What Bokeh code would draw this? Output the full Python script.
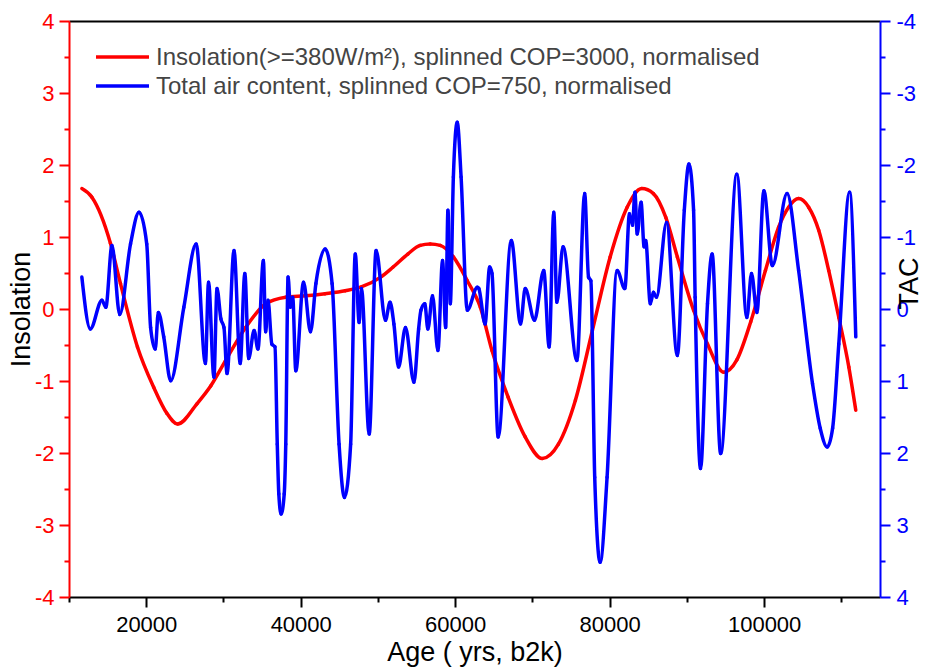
import math
from bokeh.plotting import figure
from bokeh.models import (Range1d, LinearAxis, FixedTicker, PrintfTickFormatter,
                          Legend, LegendItem, ColumnDataSource)
from bokeh.embed import file_html
from bokeh.resources import INLINE

# Insolation (>=380 W/m2), splinned, normalised
ins_age = [11600, 12900, 15300, 16600, 18800, 20900, 22600, 24000, 26500, 28300,
           30200, 32800, 35400, 38000, 40600, 43100, 45700, 47700, 50300, 51900,
           53800, 55400, 56700, 58000, 59700, 61500, 63200, 64700, 66800, 69000,
           71200, 73300, 75500, 77700, 80000, 82200, 84100, 85600, 87200, 88700,
           90800, 92600, 94700, 96400, 98200, 100100, 101800, 103100, 104400, 105700,
           107000, 108300, 109600, 110900, 111800]
ins_val = [1.68, 1.56, 0.92, 0.36, -0.52, -1.08, -1.44, -1.59, -1.31, -1.06,
           -0.71, -0.25, 0.08, 0.17, 0.19, 0.22, 0.26, 0.31, 0.45, 0.59,
           0.77, 0.89, 0.91, 0.89, 0.73, 0.40, 0.03, -0.57, -1.22, -1.77,
           -2.07, -1.87, -1.26, -0.29, 0.73, 1.42, 1.68, 1.61, 1.28, 0.73,
           -0.01, -0.48, -0.87, -0.70, -0.17, 0.54, 1.14, 1.42, 1.54, 1.42,
           1.10, 0.54, -0.11, -0.80, -1.40]

# Total air content, splinned, normalised (plotted on reversed right axis)
tac_age = [11600, 12700, 14200, 14700, 15500, 16500, 17900, 19000, 20000, 20500,
           21100, 21500, 22200, 23100, 24800, 26400, 27600, 28000, 28700, 29100,
           29600, 30000, 30400, 31300, 32100, 32700, 33200, 33900, 34400, 35100,
           35400, 35700, 36200, 36600, 36900, 37100, 37400, 37800, 38000, 38300,
           38600, 38900, 39300, 40300, 41200, 41900, 43100, 44000, 44900, 45600,
           46400, 47000, 47500, 47800, 48800, 49700, 50900, 51500, 52000, 52600,
           53500, 54600, 55200, 55500, 56000, 56400, 57000, 57700, 58300, 58700,
           59000, 59300, 59700, 60200, 60700, 61500, 62800, 63000, 63800, 64400,
           64700, 65500, 67200, 68400, 69000, 70200, 71400, 72100, 72700, 73100,
           73900, 75700, 76700, 77200, 77500, 78000, 78700, 79600, 80900, 81900,
           82500, 82900, 83200, 83500, 84000, 84400, 84600, 85200, 85600, 86000,
           87300, 88700, 89600, 90200, 90800, 91000, 91700, 92600, 93200, 94300,
           96400, 97700, 98300, 99000, 99900, 101000, 102900, 104400, 106200, 107200,
           108100, 108800, 109600, 111000, 111800]
tac_val = [-0.45, 0.27, -0.13, -0.03, -0.89, 0.07, -0.91, -1.35, -0.91, 0.25,
           0.55, 0.04, 0.38, 0.99, -0.03, -0.91, 0.75, -0.38, 0.94, -0.29,
           0.13, 0.25, 0.89, -0.82, 0.75, -0.50, 0.68, 0.29, 0.55, -0.68,
           0.31, -0.13, 0.48, 0.52, 1.87, 2.56, 2.84, 2.56, 1.87, -0.45,
           -0.03, -0.17, 0.85, -0.38, 0.31, -0.36, -0.84, -0.36, 1.87, 2.61,
           1.87, -0.77, 0.18, -0.29, 1.73, -0.82, 0.15, -0.10, 0.20, 0.80,
           0.25, 1.01, 0.27, 0.01, -0.08, 0.27, -0.19, 0.57, -0.68, 0.25,
           -1.38, -0.08, -1.84, -2.60, -1.84, 0.01, -0.31, -0.29, 0.20, -0.59,
           -0.50, 1.77, -0.96, 0.20, -0.29, 0.15, -0.54, 0.52, -1.35, -0.10,
           -0.87, 0.71, -1.61, -0.45, -0.40, 2.33, 3.51, 2.33, -0.54, -0.29,
           -1.33, -1.17, -1.63, -1.05, -1.49, -0.87, -0.96, -0.08, -0.24, -0.17,
           -1.21, 0.64, -1.38, -2.02, -1.38, -0.17, 2.21, -0.08, -0.77, 2.00,
           -1.88, 0.11, -0.50, 0.04, -1.65, -0.61, -1.61, -0.54, 1.03, 1.65,
           1.91, 1.65, 0.48, -1.63, 0.38]

x_ticks = [20000, 40000, 60000, 80000, 100000]
x_minor = [10000, 30000, 50000, 70000, 90000, 110000]
y_ticks = [-4, -3, -2, -1, 0, 1, 2, 3, 4]
y_minor = [-3.5, -2.5, -1.5, -0.5, 0.5, 1.5, 2.5, 3.5]

label_ins = "Insolation(>=380W/m\u00b2), splinned COP=3000, normalised"
label_tac = "Total air content, splinned COP=750, normalised"

FONT = "Liberation Sans"
RED = "#ff0000"
BLUE = "#0000ff"


def smooth_segments(xs, ys):
    """Monotone cubic (spline-like) Bezier segments through the read points."""
    n = len(xs)
    h = [xs[i + 1] - xs[i] for i in range(n - 1)]
    s = [(ys[i + 1] - ys[i]) / h[i] for i in range(n - 1)]
    t = [0.0] * n
    for i in range(1, n - 1):
        s0, s1 = s[i - 1], s[i]
        if s0 * s1 <= 0:
            t[i] = 0.0
        else:
            pp = (s0 * h[i] + s1 * h[i - 1]) / (h[i - 1] + h[i])
            sign = 1.0 if s0 > 0 else -1.0
            t[i] = sign * min(abs(s0), abs(s1), 0.5 * abs(pp)) * 2
    t[0] = (3 * s[0] - t[1]) / 2
    t[-1] = (3 * s[-1] - t[-2]) / 2
    d = dict(x0=[], y0=[], x1=[], y1=[], cx0=[], cy0=[], cx1=[], cy1=[])
    for i in range(n - 1):
        d["x0"].append(xs[i]); d["y0"].append(ys[i])
        d["x1"].append(xs[i + 1]); d["y1"].append(ys[i + 1])
        d["cx0"].append(xs[i] + h[i] / 3); d["cy0"].append(ys[i] + t[i] * h[i] / 3)
        d["cx1"].append(xs[i + 1] - h[i] / 3); d["cy1"].append(ys[i + 1] - t[i + 1] * h[i] / 3)
    return ColumnDataSource(d)


p = figure(width=942, height=669, output_backend="svg", toolbar_location=None,
           x_range=Range1d(10000, 115000), y_range=Range1d(-4, 4),
           min_border_left=69, min_border_right=62, min_border_top=21,
           min_border_bottom=72)
p.xgrid.visible = False
p.ygrid.visible = False
p.outline_line_color = None
p.background_fill_color = "white"
p.border_fill_color = "white"
p.extra_y_ranges = {"tac": Range1d(start=4, end=-4)}


def style_axis(ax, color, label_color="black"):
    ax.axis_line_color = color
    ax.axis_line_width = 2
    ax.major_tick_line_color = color
    ax.minor_tick_line_color = color
    ax.major_tick_line_width = 2
    ax.minor_tick_line_width = 2
    ax.major_tick_out = 10
    ax.major_tick_in = 0
    ax.minor_tick_out = 5
    ax.minor_tick_in = 0
    ax.major_label_text_color = color
    ax.major_label_text_font = FONT
    ax.major_label_text_font_size = "22px"
    ax.axis_label_text_font = FONT
    ax.axis_label_text_font_size = "27px"
    ax.axis_label_text_font_style = "normal"
    ax.axis_label_text_color = label_color
    ax.formatter = PrintfTickFormatter(format="%d")


xa = p.xaxis[0]
xa.ticker = FixedTicker(ticks=x_ticks, minor_ticks=x_minor)
style_axis(xa, "black")
xa.axis_label = "Age ( yrs, b2k)"
xa.major_label_standoff = 9
xa.axis_label_standoff = 2

ya = p.yaxis[0]
ya.ticker = FixedTicker(ticks=y_ticks, minor_ticks=y_minor)
style_axis(ya, RED)
ya.axis_label = "Insolation"
ya.major_label_standoff = 5
ya.axis_label_standoff = -4

yr = LinearAxis(y_range_name="tac", axis_label="TAC",
                ticker=FixedTicker(ticks=y_ticks, minor_ticks=y_minor))
style_axis(yr, BLUE)
yr.major_label_standoff = 6
yr.axis_label_standoff = -10
yr.axis_label_text_line_height = 0.6
yr.axis_label_orientation = math.pi / 2
p.add_layout(yr, "right")

top = LinearAxis(ticker=FixedTicker(ticks=[]))
top.axis_line_color = "black"
top.axis_line_width = 2
top.major_tick_line_color = None
top.minor_tick_line_color = None
top.major_label_text_font_size = "0px"
p.add_layout(top, "above")

r_ins = p.bezier(x0="x0", y0="y0", x1="x1", y1="y1", cx0="cx0", cy0="cy0",
                 cx1="cx1", cy1="cy1", source=smooth_segments(ins_age, ins_val),
                 line_color=RED, line_width=3.5, line_cap="round")
r_tac = p.bezier(x0="x0", y0="y0", x1="x1", y1="y1", cx0="cx0", cy0="cy0",
                 cx1="cx1", cy1="cy1", source=smooth_segments(tac_age, tac_val),
                 line_color=BLUE, line_width=3.5, line_cap="round",
                 y_range_name="tac")

legend = Legend(items=[LegendItem(label=label_ins, renderers=[r_ins]),
                       LegendItem(label=label_tac, renderers=[r_tac])],
                location=(27, 497), border_line_color=None, background_fill_alpha=0,
                label_text_font=FONT, label_text_font_size="24px",
                glyph_width=53, glyph_height=29, label_height=29, spacing=0,
                padding=5, margin=0, label_standoff=7)
p.add_layout(legend)

open("out.html", "w").write(file_html(p, INLINE))
